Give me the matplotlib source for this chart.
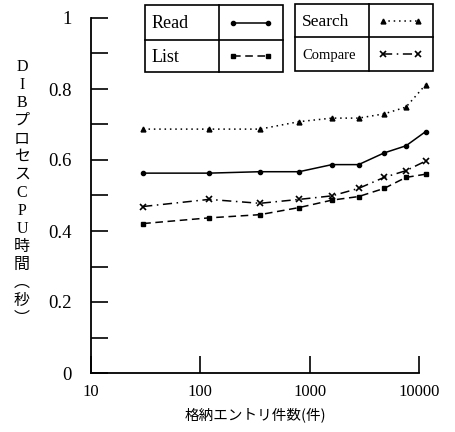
import numpy as np
import matplotlib.pyplot as plt
from matplotlib.patches import Rectangle
from matplotlib.lines import Line2D

# データ
entries = [30, 120, 350, 800, 1600, 2800, 4800, 7600, 11500]
read_t = [0.563, 0.563, 0.567, 0.567, 0.587, 0.587, 0.620, 0.640, 0.680]
list_t = [0.421, 0.437, 0.446, 0.466, 0.487, 0.497, 0.520, 0.551, 0.560]
search_t = [0.687, 0.687, 0.687, 0.708, 0.718, 0.718, 0.730, 0.749, 0.812]
compare_t = [0.469, 0.489, 0.478, 0.489, 0.499, 0.520, 0.551, 0.570, 0.597]

x_ticks = [10, 100, 1000, 10000]
y_ticks = [0, 0.2, 0.4, 0.6, 0.8, 1]
y_labels = ['0', '0.2', '0.4', '0.6', '0.8', '1']
x_title = '格納エントリ件数(件)'
y_title = 'DIBプロセスCPU時間︵秒︶'

serif = ['Liberation Serif', 'DejaVu Serif']
jp = ['Noto Sans CJK JP', 'DejaVu Sans']
mix = ['Liberation Serif', 'Noto Sans CJK JP']

W, H = 455, 432
fig = plt.figure(figsize=(W / 100, H / 100), dpi=100)
ax = fig.add_axes([91 / W, 1 - 373 / H, (419 - 91) / W, (373 - 18) / H])

styles = [
    (read_t, dict(ls='-', marker='o', ms=3)),
    (list_t, dict(ls=(0, (5, 3)), marker='s', ms=3)),
    (search_t, dict(ls=(0, (1, 2.5)), marker='^', ms=3.5)),
    (compare_t, dict(ls=(0, (6, 3, 1, 3)), marker='x', ms=4, mew=1.2)),
]
for ys, st in styles:
    ax.plot(entries, ys, color='black', lw=1.1, clip_on=False, **st)

ax.set_xscale('log')
ax.set_xlim(10, 10000)
ax.set_ylim(0, 1)
ax.spines['top'].set_visible(False)
ax.spines['right'].set_visible(False)
ax.spines['left'].set_linewidth(1.3)
ax.spines['bottom'].set_linewidth(1.3)

ax.set_xticks(x_ticks)
ax.set_xticklabels([str(v) for v in x_ticks], fontfamily=serif, fontsize=12)
ax.xaxis.set_minor_locator(plt.NullLocator())
ax.set_yticks(y_ticks)
ax.set_yticklabels(y_labels, fontfamily=serif, fontsize=13.5)
ax.set_yticks(np.arange(0.1, 1.0, 0.2), minor=True)
ax.tick_params(axis='both', which='both', direction='in', length=12, width=1.2)
ax.tick_params(axis='y', pad=14)
ax.tick_params(axis='x', pad=8)

fig.text(255 / W, 1 - 415 / H, x_title, fontfamily=jp, fontsize=10.5,
         ha='center', va='center')
fig.text(22 / W, 1 - 193 / H, '\n'.join(y_title), fontfamily=mix, fontsize=11.5,
         ha='center', va='center', linespacing=1.17)

# 凡例(表形式)
ov = fig.add_axes([0, 0, 1, 1])
ov.set_xlim(0, W)
ov.set_ylim(H, 0)
ov.axis('off')

tables = [
    (145, 283, 219, 5, 40, 72, [('Read', 13, 0), ('List', 13, 1)]),
    (295, 433, 369, 4, 37, 71, [('Search', 12.5, 2), ('Compare', 10.5, 3)]),
]
for x0, x1, xm, y0, ym, y1, rows in tables:
    ov.add_patch(Rectangle((x0, y0), x1 - x0, y1 - y0, fill=False, lw=1.2, ec='black'))
    ov.plot([xm, xm], [y0, y1], color='black', lw=1.2)
    ov.plot([x0, x1], [ym, ym], color='black', lw=1.2)
    for i, (name, fs, k) in enumerate(rows):
        yc = (y0 + ym) / 2 if i == 0 else (ym + y1) / 2
        ov.text(x0 + 7, yc + 1, name, fontfamily=serif, fontsize=fs, ha='left', va='center')
        st = dict(styles[k][1])
        ov.add_line(Line2D([xm + 14, xm + 49], [yc, yc], color='black', lw=1.1, **st))

fig.savefig('out.png', dpi=100)
